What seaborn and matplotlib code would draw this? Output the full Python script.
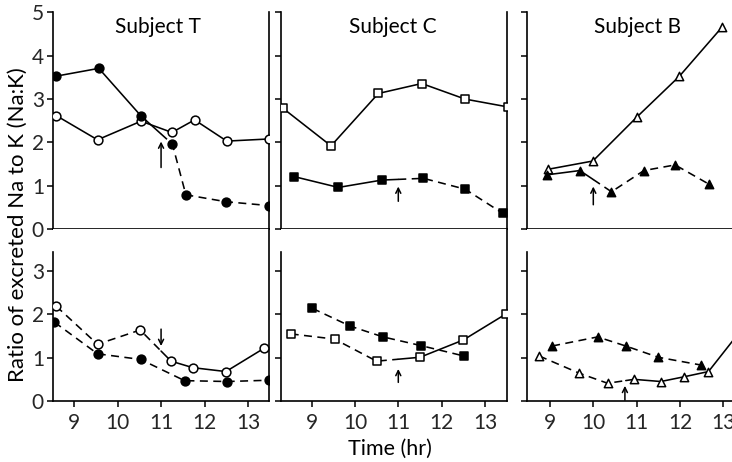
import numpy as np
import matplotlib
matplotlib.use("Agg")
import matplotlib.pyplot as plt
import seaborn as sns

sns.set_theme(style="white")
plt.rcParams['font.family'] = ['Lato', 'DejaVu Sans']

# ---------------- data ----------------
# Subject T (top: before, bottom: after)
t_top_open_x = [8.59, 9.54, 10.54, 11.25, 11.77, 12.51, 13.49]
t_top_open_y = [2.62, 2.06, 2.49, 2.23, 2.52, 2.03, 2.08]
t_top_fill_x = [8.59, 9.57, 10.54, 11.26, 11.57, 12.49, 13.49]
t_top_fill_y = [3.53, 3.71, 2.61, 1.96, 0.79, 0.63, 0.54]
t_bot_open_x = [8.59, 9.54, 10.52, 11.23, 11.73, 12.49, 13.37]
t_bot_open_y = [2.19, 1.31, 1.64, 0.92, 0.77, 0.68, 1.22]
t_bot_fill_x = [8.55, 9.54, 10.53, 11.54, 12.52, 13.49]
t_bot_fill_y = [1.82, 1.09, 0.96, 0.47, 0.45, 0.48]

# Subject C
c_top_open_x = [8.34, 9.45, 10.54, 11.54, 12.54, 13.52]
c_top_open_y = [2.79, 1.92, 3.13, 3.36, 3.00, 2.82]
c_top_fill_x = [8.60, 9.62, 10.62, 11.58, 12.54, 13.41]
c_top_fill_y = [1.21, 0.96, 1.13, 1.17, 0.92, 0.36]
c_bot_open_x = [8.52, 9.53, 10.50, 11.50, 12.50, 13.48]
c_bot_open_y = [1.55, 1.43, 0.92, 1.01, 1.41, 2.01]
c_bot_fill_x = [9.02, 9.89, 10.65, 11.52, 12.51]
c_bot_fill_y = [2.14, 1.73, 1.48, 1.28, 1.04]

# Subject B
b_top_open_x = [8.96, 9.99, 11.00, 11.99, 12.98]
b_top_open_y = [1.38, 1.57, 2.58, 3.53, 4.67]
b_top_fill_x = [8.92, 9.69, 10.42, 11.17, 11.89, 12.68]
b_top_fill_y = [1.25, 1.35, 0.86, 1.35, 1.48, 1.03]
b_bot_open_x = [8.75, 9.68, 10.33, 10.94, 11.56, 12.10, 12.66, 13.40]
b_bot_open_y = [1.04, 0.64, 0.41, 0.50, 0.45, 0.56, 0.68, 1.62]
b_bot_fill_x = [9.05, 10.10, 10.75, 11.50, 12.49]
b_bot_fill_y = [1.27, 1.48, 1.27, 1.01, 0.83]

subjects = ["Subject T", "Subject C", "Subject B"]
x_ticks = [9, 10, 11, 12, 13]
y_ticks_top = [0, 1, 2, 3, 4, 5]
y_ticks_bot = [0, 1, 2, 3]

# arrows: (time, tail, tip)
arrows_top = [(11.0, 1.42, 2.02), (11.0, 0.64, 0.98), (10.0, 0.56, 0.98)]
arrows_bot = [(11.0, 1.66, 1.27), (11.0, 0.43, 0.74), (10.73, 0.02, 0.35)]

# ---------------- layout ----------------
W, H = 732, 462
fig = plt.figure(figsize=(W / 100, H / 100), dpi=100)
fig.patch.set_facecolor("white")


def rect(x0, x1, ytop, ybot):
    return [x0 / W, 1 - ybot / H, (x1 - x0) / W, (ybot - ytop) / H]


cols = [(53, 269, (8.517, 13.48)), (281, 507, (8.297, 13.505)), (527, 732, (8.469, 13.203))]
TOP = (12.5, 229)
BOT = (229, 401)
BOT_YMAX = (BOT[1] - BOT[0]) / 43.3

DASH = (0, (5.0, 3.4))
LW = 1.15


def series(ax, x, y, marker, filled, switch=None, first="-", second="-", ms=40):
    x = np.asarray(x, float)
    y = np.asarray(y, float)
    if switch is None:
        segs = [(x, y, first)]
    else:
        ys = np.interp(switch, x, y)
        m1 = x < switch
        m2 = x > switch
        segs = [(np.r_[x[m1], switch], np.r_[y[m1], ys], first),
                (np.r_[switch, x[m2]], np.r_[ys, y[m2]], second)]
    for sx, sy, ls in segs:
        sns.lineplot(x=sx, y=sy, ax=ax, color="black", linewidth=LW,
                     linestyle=ls, sort=False, estimator=None, zorder=2)
    sns.scatterplot(x=x, y=y, ax=ax, marker=marker, s=ms,
                    facecolor="black" if filled else "white",
                    edgecolor="black", linewidth=1.1, zorder=3)


def style_axes(ax, xlim, ylim, ylabels, right_spine, xlabels, yticks, left_bound):
    ax.set_facecolor("white")
    ax.set_xlim(*xlim)
    ax.set_ylim(*ylim)
    for s in ax.spines.values():
        s.set_color("black")
        s.set_linewidth(1.2)
    ax.spines["top"].set_visible(False)
    ax.spines["right"].set_visible(right_spine)
    ax.spines["left"].set_bounds(0, left_bound)
    ax.set_xticks(x_ticks)
    ax.set_yticks(yticks)
    ax.tick_params(axis="both", direction="out", length=4.5, width=1.1,
                   color="black", labelsize=15, pad=2,
                   left=True, bottom=True, right=False, top=False)
    if xlabels:
        ax.set_xticklabels([str(t) for t in x_ticks])
    else:
        ax.set_xticklabels([])
    if ylabels:
        ax.set_yticklabels([str(t) for t in yticks])
    else:
        ax.set_yticklabels([])
    ax.set_xlabel("")
    ax.set_ylabel("")
    ax.grid(False)
    ax.tick_params(axis="x", pad=4)


axes_top = []
axes_bot = []
for i, (x0, x1, xl) in enumerate(cols):
    at = fig.add_axes(rect(x0, x1, *TOP))
    ab = fig.add_axes(rect(x0, x1, *BOT))
    axes_top.append(at)
    axes_bot.append(ab)

# Subject T
series(axes_top[0], t_top_open_x, t_top_open_y, "o", False)
series(axes_top[0], t_top_fill_x, t_top_fill_y, "o", True, switch=11.0, first="-", second=DASH)
series(axes_bot[0], t_bot_open_x, t_bot_open_y, "o", False, switch=11.0, first=DASH, second="-")
series(axes_bot[0], t_bot_fill_x, t_bot_fill_y, "o", True, first=DASH)
# Subject C
series(axes_top[1], c_top_open_x, c_top_open_y, "s", False)
series(axes_top[1], c_top_fill_x, c_top_fill_y, "s", True, switch=11.0, first="-", second=DASH)
series(axes_bot[1], c_bot_open_x, c_bot_open_y, "s", False, switch=11.0, first=DASH, second="-")
series(axes_bot[1], c_bot_fill_x, c_bot_fill_y, "s", True, first=DASH)
# Subject B
series(axes_top[2], b_top_open_x, b_top_open_y, "^", False, ms=36)
series(axes_top[2], b_top_fill_x, b_top_fill_y, "^", True, switch=10.0, first="-", second=DASH, ms=36)
series(axes_bot[2], b_bot_open_x, b_bot_open_y, "^", False, switch=10.75, first=DASH, second="-", ms=36)
series(axes_bot[2], b_bot_fill_x, b_bot_fill_y, "^", True, first=DASH, ms=36)

for i, (x0, x1, xl) in enumerate(cols):
    at, ab = axes_top[i], axes_bot[i]
    style_axes(at, xl, (0, 5), i == 0, i < 2, False, y_ticks_top, 5)
    style_axes(ab, xl, (0, BOT_YMAX), i == 0, i < 2, True, y_ticks_bot, 3.43)
    for ax, arr in ((at, arrows_top[i]), (ab, arrows_bot[i])):
        t, tail, tip = arr
        ax.annotate("", xy=(t, tip), xytext=(t, tail),
                    arrowprops=dict(arrowstyle="->", lw=1.1, color="black",
                                    shrinkA=0, shrinkB=0, mutation_scale=9))

title_pos = [(158, 27), (393, 27), (638, 27)]
for (px, py), name in zip(title_pos, subjects):
    fig.text(px / W, 1 - py / H, name, ha="center", va="center", fontsize=15, color="black")

fig.text(390 / W, 1 - 449 / H, "Time (hr)", ha="center", va="center", fontsize=15.5, color="black")
fig.text(18 / W, 1 - 225 / H, "Ratio of excreted Na to K (Na:K)", ha="center", va="center",
         rotation=90, fontsize=16, color="black")

fig.savefig("out.png", dpi=100, facecolor="white")
